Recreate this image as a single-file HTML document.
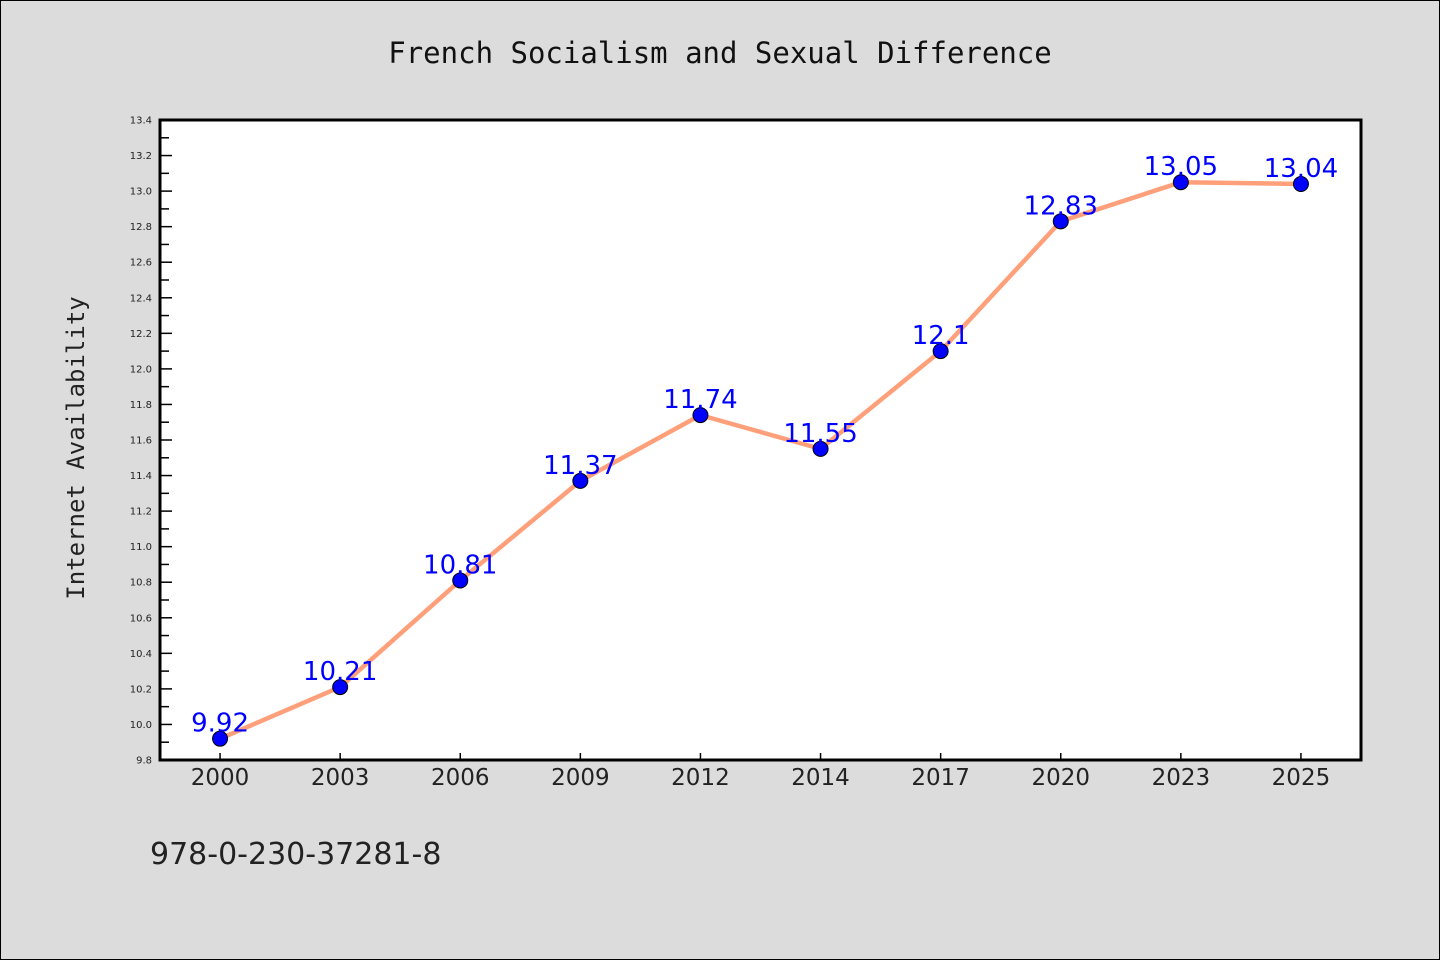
<!DOCTYPE html>
<html><head><meta charset="utf-8"><style>
html,body{margin:0;padding:0;background:#dcdcdc;}
svg{display:block;font-family:"DejaVu Sans","Liberation Sans",sans-serif;}
</style></head><body>
<svg id="chart" width="1440" height="960" viewBox="0 0 1440 960">
<rect x="0.5" y="0.5" width="1439" height="959" fill="#dcdcdc" stroke="#000" stroke-width="1"/>
<text x="720" y="63" text-anchor="middle" font-size="29" font-family="'DejaVu Sans Mono','Liberation Mono',monospace" fill="#111">French Socialism and Sexual Difference</text>
<rect x="160" y="120" width="1201" height="640" fill="#fff"/>
<g id="yaxis"></g>
<g id="xaxis"></g>
<g id="series"></g>
<rect x="160" y="120" width="1201" height="640" fill="none" stroke="#000" stroke-width="3"/>
<text transform="translate(84,448) rotate(-90)" text-anchor="middle" font-size="24" font-family="'DejaVu Sans Mono','Liberation Mono',monospace" fill="#222">Internet Availability</text>
<text x="150" y="864" font-size="30" fill="#222">978-0-230-37281-8</text>
</svg>
<script>
const categories = ["2000","2003","2006","2009","2012","2014","2017","2020","2023","2025"];
const values = [9.92,10.21,10.81,11.37,11.74,11.55,12.1,12.83,13.05,13.04];
const valueLabels = ["9.92","10.21","10.81","11.37","11.74","11.55","12.1","12.83","13.05","13.04"];
const yTicks = [9.8,10.0,10.2,10.4,10.6,10.8,11.0,11.2,11.4,11.6,11.8,12.0,12.2,12.4,12.6,12.8,13.0,13.2,13.4];
const yMin = 9.8, yMax = 13.4;
const L=160,R=1361,T=120,B=760;
const NS="http://www.w3.org/2000/svg";
function yS(v){return B-(v-yMin)/(yMax-yMin)*(B-T);}
function xS(i){return L+(R-L)/categories.length*(i+0.5);}
function mk(tag,attrs,parent){const e=document.createElementNS(NS,tag);for(const k in attrs)e.setAttribute(k,attrs[k]);parent.appendChild(e);return e;}
const ya=document.getElementById('yaxis'),xa=document.getElementById('xaxis'),sg=document.getElementById('series');
yTicks.forEach((t,i)=>{
  const y=yS(t);
  const tk=mk('line',{x1:L,x2:L+12,y1:y,y2:y,stroke:'#000','stroke-width':1.5},ya);
  
  
  const lb=mk('text',{x:152,y:y+3.5,'text-anchor':'end','font-size':10,fill:'#222'},ya);
  lb.textContent=t.toFixed(1);
  
  
  if(i<yTicks.length-1){
    const ym=yS(t+0.1);
    const mt=mk('line',{x1:L,x2:L+9,y1:ym,y2:ym,stroke:'#000','stroke-width':1.5},ya);
    
    
  }
});
categories.forEach((c,i)=>{
  const x=xS(i);
  const tk=mk('line',{x1:x,x2:x,y1:B,y2:B-7,stroke:'#000','stroke-width':1.5},xa);
  
  
  const lb=mk('text',{x:x,y:785,'text-anchor':'middle','font-size':23,fill:'#222'},xa);
  lb.textContent=c;
  
  
});
const pts=values.map((v,i)=>xS(i)+','+yS(v)).join(' ');
const pl=mk('polyline',{points:pts,fill:'none',stroke:'#ffa07a','stroke-width':4.5,'stroke-linejoin':'round'},sg);


values.forEach((v,i)=>{
  const c=mk('circle',{cx:xS(i),cy:yS(v),r:7.5,fill:'#0000ff',stroke:'#000','stroke-width':1},sg);
  
  
});
values.forEach((v,i)=>{
  const t=mk('text',{x:xS(i),y:yS(v)-7,'text-anchor':'middle','font-size':26,fill:'#0000ff'},sg);
  t.textContent=valueLabels[i];
  
  
});
</script>
</body></html>
